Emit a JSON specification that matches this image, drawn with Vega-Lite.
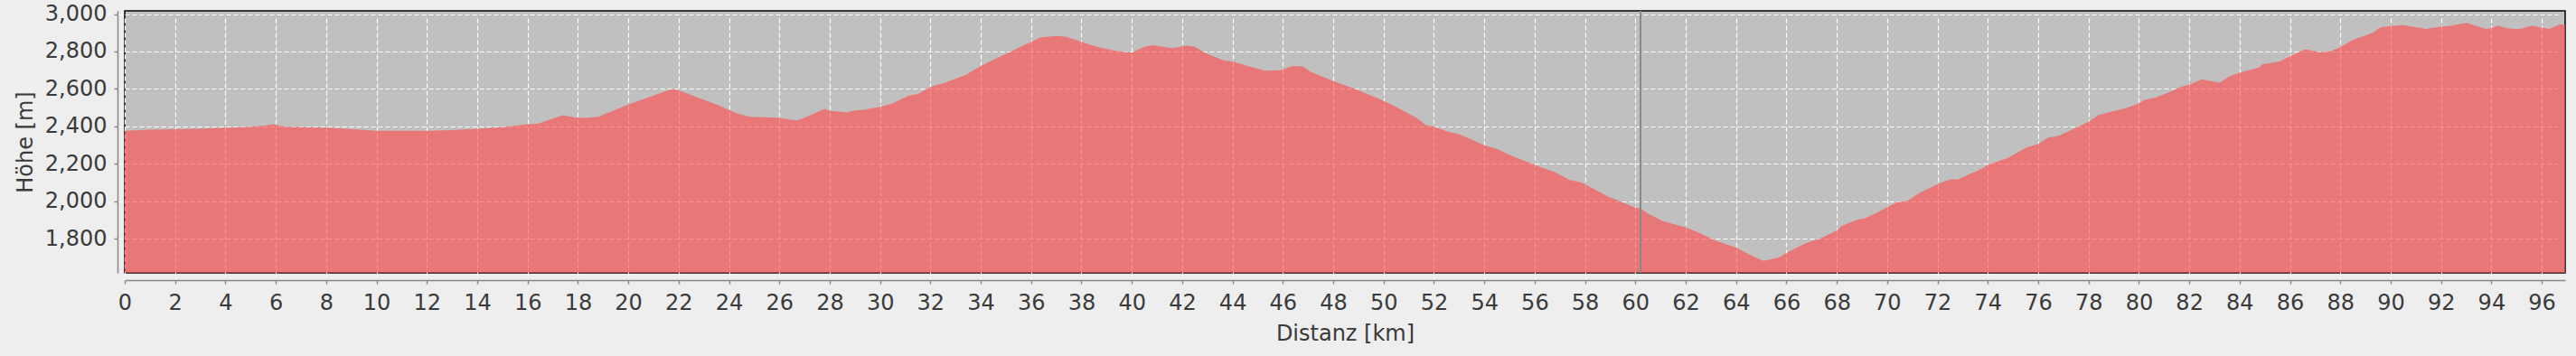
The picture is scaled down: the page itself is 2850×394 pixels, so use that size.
{
  "$schema": "https://vega.github.io/schema/vega-lite/v6.json",
  "autosize": "none",
  "width": 2700,
  "height": 290,
  "padding": {"left": 138, "top": 12, "right": 12, "bottom": 92},
  "background": "#eeeeee",
  "config": {
    "view": {"fill": "#c0c0c0", "stroke": "#000000", "strokeWidth": 1.5},
    "axis": {
      "labelFont": "DejaVu Sans",
      "titleFont": "DejaVu Sans",
      "labelFontSize": 24,
      "titleFontSize": 24,
      "titleFontWeight": "normal",
      "labelColor": "#3a3a3a",
      "titleColor": "#3a3a3a",
      "domainColor": "#888888",
      "tickColor": "#888888",
      "tickSize": 4,
      "domainWidth": 1.5,
      "tickWidth": 1.5,
      "gridColor": "#ffffff",
      "gridDash": [5, 3],
      "gridWidth": 1.2,
      "offset": 8
    }
  },
  "data": {
    "values": [
      {"km": 0, "h": 2377}, {"km": 1, "h": 2383}, {"km": 2, "h": 2385}, {"km": 3, "h": 2388},
      {"km": 4, "h": 2393}, {"km": 5, "h": 2398}, {"km": 5.5, "h": 2403}, {"km": 5.9, "h": 2412},
      {"km": 6.3, "h": 2400}, {"km": 7, "h": 2396}, {"km": 8, "h": 2393}, {"km": 9, "h": 2386},
      {"km": 10, "h": 2377}, {"km": 11, "h": 2376}, {"km": 12, "h": 2376}, {"km": 13, "h": 2380},
      {"km": 14, "h": 2388}, {"km": 15.1, "h": 2397}, {"km": 16, "h": 2411}, {"km": 16.4, "h": 2414},
      {"km": 17.4, "h": 2460}, {"km": 17.9, "h": 2446}, {"km": 18.3, "h": 2445}, {"km": 18.8, "h": 2451},
      {"km": 20, "h": 2516}, {"km": 20.6, "h": 2546}, {"km": 21.7, "h": 2598}, {"km": 22, "h": 2594},
      {"km": 22.6, "h": 2562}, {"km": 23.5, "h": 2518}, {"km": 24.3, "h": 2471}, {"km": 24.8, "h": 2451},
      {"km": 25.9, "h": 2446}, {"km": 26.7, "h": 2432}, {"km": 26.9, "h": 2441}, {"km": 27.8, "h": 2493},
      {"km": 28, "h": 2483}, {"km": 28.7, "h": 2475}, {"km": 29, "h": 2485}, {"km": 29.3, "h": 2487},
      {"km": 30, "h": 2505}, {"km": 30.5, "h": 2522}, {"km": 31.1, "h": 2562}, {"km": 31.5, "h": 2573},
      {"km": 32, "h": 2611}, {"km": 32.6, "h": 2635}, {"km": 33.4, "h": 2675}, {"km": 34, "h": 2723},
      {"km": 34.5, "h": 2755}, {"km": 35, "h": 2787}, {"km": 35.7, "h": 2832}, {"km": 36, "h": 2852},
      {"km": 36.4, "h": 2876}, {"km": 37, "h": 2883}, {"km": 37.4, "h": 2878}, {"km": 38, "h": 2852},
      {"km": 38.6, "h": 2825}, {"km": 39.4, "h": 2802}, {"km": 40, "h": 2794}, {"km": 40.5, "h": 2825},
      {"km": 40.8, "h": 2834}, {"km": 41.6, "h": 2818}, {"km": 42.2, "h": 2831}, {"km": 42.5, "h": 2825},
      {"km": 43, "h": 2787}, {"km": 43.7, "h": 2750}, {"km": 44, "h": 2747}, {"km": 44.6, "h": 2723},
      {"km": 45.3, "h": 2698}, {"km": 45.9, "h": 2700}, {"km": 46.4, "h": 2723}, {"km": 46.8, "h": 2720},
      {"km": 47.1, "h": 2691}, {"km": 48, "h": 2642}, {"km": 48.9, "h": 2599}, {"km": 50, "h": 2537},
      {"km": 50.8, "h": 2483}, {"km": 51.3, "h": 2446}, {"km": 51.7, "h": 2405}, {"km": 52, "h": 2400},
      {"km": 52.5, "h": 2374}, {"km": 53, "h": 2358}, {"km": 53.5, "h": 2329}, {"km": 54, "h": 2299},
      {"km": 54.5, "h": 2280}, {"km": 55, "h": 2248}, {"km": 56, "h": 2195}, {"km": 56.8, "h": 2156},
      {"km": 57.4, "h": 2114}, {"km": 57.8, "h": 2103}, {"km": 58, "h": 2091}, {"km": 58.9, "h": 2027},
      {"km": 60, "h": 1966}, {"km": 60.2, "h": 1963}, {"km": 60.5, "h": 1934}, {"km": 61.1, "h": 1894},
      {"km": 62, "h": 1861}, {"km": 62.5, "h": 1834}, {"km": 63.2, "h": 1789}, {"km": 64, "h": 1753},
      {"km": 64.7, "h": 1705}, {"km": 65.1, "h": 1682}, {"km": 65.7, "h": 1700}, {"km": 66, "h": 1724},
      {"km": 66.7, "h": 1772}, {"km": 67.4, "h": 1805}, {"km": 68, "h": 1845}, {"km": 68.2, "h": 1869},
      {"km": 68.8, "h": 1901}, {"km": 69.1, "h": 1909}, {"km": 69.6, "h": 1940}, {"km": 70, "h": 1969},
      {"km": 70.4, "h": 1995}, {"km": 70.8, "h": 2002}, {"km": 71.3, "h": 2046}, {"km": 72, "h": 2091},
      {"km": 72.5, "h": 2117}, {"km": 72.8, "h": 2116}, {"km": 73.3, "h": 2148}, {"km": 73.6, "h": 2163},
      {"km": 74, "h": 2195}, {"km": 74.8, "h": 2232}, {"km": 75.5, "h": 2285}, {"km": 76, "h": 2307},
      {"km": 76.4, "h": 2340}, {"km": 76.8, "h": 2349}, {"km": 77.4, "h": 2386}, {"km": 78, "h": 2425},
      {"km": 78.4, "h": 2461}, {"km": 79, "h": 2482}, {"km": 79.5, "h": 2498}, {"km": 80, "h": 2522},
      {"km": 80.2, "h": 2541}, {"km": 80.7, "h": 2555}, {"km": 81.2, "h": 2583}, {"km": 81.7, "h": 2613},
      {"km": 82, "h": 2623}, {"km": 82.5, "h": 2651}, {"km": 83.2, "h": 2634}, {"km": 83.6, "h": 2667},
      {"km": 84, "h": 2686}, {"km": 84.8, "h": 2715}, {"km": 84.9, "h": 2731}, {"km": 85.6, "h": 2747},
      {"km": 86, "h": 2774}, {"km": 86.6, "h": 2812}, {"km": 87.2, "h": 2796}, {"km": 87.6, "h": 2801},
      {"km": 88, "h": 2823}, {"km": 88.5, "h": 2863}, {"km": 88.8, "h": 2876}, {"km": 89.3, "h": 2900},
      {"km": 89.6, "h": 2929}, {"km": 90, "h": 2936}, {"km": 90.5, "h": 2941}, {"km": 91.4, "h": 2921},
      {"km": 92, "h": 2932}, {"km": 92.4, "h": 2937}, {"km": 93, "h": 2953}, {"km": 93.8, "h": 2919},
      {"km": 94.3, "h": 2937}, {"km": 94.6, "h": 2924}, {"km": 95.1, "h": 2919}, {"km": 95.6, "h": 2937},
      {"km": 96.3, "h": 2921}, {"km": 96.7, "h": 2943}, {"km": 96.93, "h": 2945}
    ]
  },
  "layer": [
    {
      "mark": {"type": "area", "color": "#ff4f4f", "opacity": 0.635, "clip": true, "interpolate": "linear"},
      "encoding": {
        "x": {
          "field": "km", "type": "quantitative",
          "scale": {"domain": [0, 96.93], "nice": false, "zero": false},
          "axis": {
            "title": "Distanz [km]",
            "values": [0,2,4,6,8,10,12,14,16,18,20,22,24,26,28,30,32,34,36,38,40,42,44,46,48,50,52,54,56,58,60,62,64,66,68,70,72,74,76,78,80,82,84,86,88,90,92,94,96],
            "labelPadding": 9,
            "titlePadding": 10,
            "labelFlush": false,
            "labelOverlap": false
          }
        },
        "y": {
          "field": "h", "type": "quantitative",
          "scale": {"domain": [1618, 3017], "nice": false, "zero": false},
          "axis": {
            "title": "Höhe [m]",
            "values": [1800, 2000, 2200, 2400, 2600, 2800, 3000],
            "format": ",d",
            "labelPadding": 8,
            "titlePadding": 9
          }
        }
      }
    },
    {
      "mark": {"type": "rule", "color": "#8a8a8a", "strokeWidth": 1.5},
      "encoding": {"x": {"datum": 60.2, "type": "quantitative"}}
    }
  ]
}
